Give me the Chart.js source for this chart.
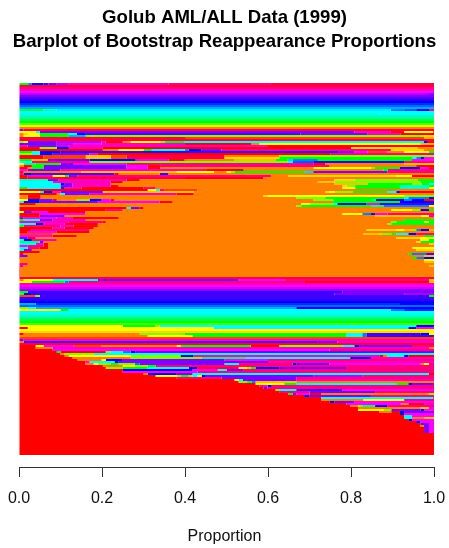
<!DOCTYPE html>
<html>
<head>
<meta charset="utf-8">
<title>Golub AML/ALL Data (1999)</title>
<script src="https://cdn.jsdelivr.net/npm/chart.js@4"></script>
<style>
html, body { margin: 0; padding: 0; background: #fff; }
canvas { display: block; }
</style>
</head>
<body>
<canvas id="barplot" width="449" height="548"></canvas>
<script>
const titleLines = ["Golub AML/ALL Data (1999)", "Barplot of Bootstrap Reappearance Proportions"];
const axisLabel = "Proportion";
const tickLabels = ["0.0", "0.2", "0.4", "0.6", "0.8", "1.0"];
const tickValues = [0, 0.2, 0.4, 0.6, 0.8, 1];

// one row per gene, top to bottom: cluster id, then where that cluster's
// part of the bar ends (in thousandths), repeated. cluster ids go 0..71
const topRows = [
  [24,22,42,30,48,59,51,71,54,91,57,120,63,360,66,607,69,1000],
  [69,1000], [66,1000], [63,1000], [60,1000], [57,988,54,1000], [54,1000], [52,1000], [50,1000], [48,1000],
  [46,1000], [43,1000], [40,1000],
  [27,59,33,91,37,896,42,928,44,957,48,988,66,1000],
  [36,1000], [35,868,36,1000], [33,1000], [31,1000], [28,1000], [24,1000], [20,1000], [14,1000], [6,1000],
  [54,11,69,1000]
];
const upperMixedRows = [
  [12,40,36,50,54,808,63,896,0,928,12,998,0,1000],
  [6,11,10,22,12,50,24,120,36,139,48,161,52,678,54,840,63,920,0,1000],
  [6,11,12,50,24,120,40,161,18,976,10,1000],
  [69,400,3,976,8,1000],
  [69,1000],
  [18,11,12,21,54,91,57,199,63,209,0,250,6,269,12,339,18,351,24,399,36,975,48,985,0,1000],
  [54,91,57,132,60,199,63,400,0,559,6,579,12,967,8,1000],
  [63,21,54,91,57,120,63,600,0,1000],
  [0,50,18,91,48,120,63,202,0,800,10,960,6,1000],
  [0,202,6,240,12,300,24,320,36,399,42,409,48,440,54,488,66,896,10,975,6,1000],
  [24,31,36,50,48,100,51,769,54,808,60,840,3,888,6,928,12,988,24,1000],
  [18,31,36,50,48,81,54,170,63,190,0,750,66,1000],
  [0,59,3,161,9,221,3,259,69,495,6,627,18,1000],
  [0,59,3,161,9,221,3,259,69,495,10,627,24,947,36,957,42,967,48,976,60,1000],
  [24,31,9,69,54,170,48,281,60,360,0,399,6,519,9,619,24,647,38,659,42,720,24,947,60,1000],
  [36,31,66,170,18,647,36,659,44,709,50,928,66,1000],
  [12,11,30,40,24,100,54,132,60,259,66,709,0,738,6,928,9,1000],
  [6,11,0,31,24,59,54,259,60,310,0,340,66,748,6,957,0,1000],
  [0,21,6,31,24,59,54,259,60,310,0,340,6,710,12,848,18,858,24,918,48,967,60,988,0,1000],
  [60,21,54,100,63,451,0,541,6,878,24,888,66,1000],
  [0,11,6,150,9,380,12,469,6,500,12,509,18,519,24,687,38,709,54,888,66,1000],
  [66,11,48,31,52,230,0,240,6,339,50,360,6,1000],
  [0,21,63,81,12,110,24,120,54,141,66,607,6,649,10,909,12,947,0,1000],
  [0,21,69,400,0,589,6,1000],
  [33,69,54,95,63,259,0,291,6,759,10,808,18,960,24,1000],
  [36,81,63,221,0,250,6,720,9,760,18,967,24,1000],
  [36,100,48,110,54,129,63,221,6,760,9,840,24,947,18,970,24,988,36,1000],
  [36,100,54,129,63,221,0,240,6,779,10,789,18,810,24,918,33,988,24,1000],
  [24,21,36,100,51,110,63,151,0,300,66,329,6,779,12,810,24,918,33,988,12,1000],
  [0,310,12,329,36,339,66,351,3,430,6,1000],
  [12,50,36,59,48,81,60,100,54,202,9,421,6,738,10,748,12,760,18,805,24,888,36,909,48,918,0,1000],
  [0,91,6,100,36,110,54,170,63,380,0,421,6,1000],
  [6,21,0,52,6,589,10,599,12,928,18,1000],
  [6,21,0,52,6,668,18,738,24,928,36,938,42,988,48,1000],
  [12,21,48,50,54,81,0,91,6,139,18,170,48,199,60,221,0,230,6,709,18,757,24,848,30,860,48,928,42,947,48,976,0,1000],
  [36,11,48,50,54,190,60,339,0,370,6,757,24,918,48,1000],
  [0,40,6,680,12,700,18,757,36,767,48,837,60,868,51,1000],
  [6,668,18,680,24,848,30,878,42,988,12,1000],
  [0,259,36,269,54,291,0,300,6,1000]
];
const orangeRows = [
  [0,209,66,250,6,897,12,947,18,967,48,988,24,1000],
  [12,11,54,31,60,70,0,160,6,1000],
  [0,50,60,160,6,779,12,827,42,848,48,858,60,888,66,1000],
  [0,50,54,110,6,858,9,969,12,988,66,1000],
  [54,11,60,90,63,130,0,240,6,1000],
  [24,11,36,50,54,81,63,161,6,928,24,1000],
  [63,120,66,202,0,209,6,897,18,909,24,976,12,988,24,1000],
  [36,40,48,59,63,110,0,190,6,888,18,897,24,1000],
  [24,11,66,100,63,132,0,190,6,1000],
  [0,81,63,110,0,180,6,1000],
  [0,31,66,170,6,837,10,909,12,928,9,947,18,957,42,967,48,988,8,1000],
  [0,21,60,90,0,170,6,1000],
  [3,81,6,830,9,871,18,897,24,909,36,938,48,958,66,1000],
  [60,81,0,139,6,976,24,1000],
  [54,21,0,40,6,909,10,967,12,1000],
  [36,11,48,31,63,91,6,967,12,988,24,1000],
  [30,50,54,59,6,957,10,967,24,1000],
  [36,40,63,59,0,70,6,988,10,1000],
  [60,21,66,59,0,70,6,1000],
  [36,21,66,50,0,70,6,948,12,1000],
  [36,11,54,31,6,957,10,1000],
  [0,50,6,1000],
  [0,11,6,938,24,947,42,981,51,1000],
  [54,21,6,976,9,1000],
  [0,3,6,947,24,957,42,976,48,1000],
  [6,976,12,1000],
  [6,976,9,1000],
  [66,21,6,1000],
  [66,11,6,988,9,1000],
  [0,3,6,1000], [0,3,6,1000], [0,3,6,1000], [0,3,6,1000], [0,3,6,1000]
];
const lowerBandRows = [
  [69,1000],
  [6,11,12,81,36,190,54,529,60,639,66,988,9,1000],
  [12,31,24,110,42,120,66,687,0,988,9,1000],
  [63,1000], [60,1000], [58,1000], [55,1000],
  [24,21,51,779,54,1000],
  [30,11,48,31,51,760,54,928,56,1000],
  [3,40,18,50,51,988,24,1000],
  [51,1000], [50,1000], [48,1000],
  [40,40,46,918,48,1000],
  [43,1000],
  [18,21,36,40,40,668,48,1000],
  [12,100,24,120,36,896,42,928,46,1000],
  [36,1000], [35,1000], [33,1000], [30,1000], [27,1000], [24,1000], [21,1000],
  [6,2,12,250,24,329,18,339,36,957,48,1000],
  [0,21,12,469,36,938,48,957,60,1000],
  [12,1000],
  [10,988,12,1000],
  [0,11,6,291,18,399,24,788,36,827,42,837,51,967,48,988,12,1000],
  [6,310,12,418,24,788,36,827,42,837,51,1000],
  [3,1000],
  [54,11,63,1000],
  [6,11,52,720,54,767,63,1000],
  [69,1000]
];
const redRows = [
  [0,40,12,59,60,132,3,199,6,380,12,389,24,558,0,627,18,779,36,808,48,821,54,947,66,1000],
  [0,40,6,81,63,988,6,1000],
  [0,81,60,748,66,1000],
  [0,91,24,100,0,209,18,221,36,250,42,269,48,281,54,1000],
  [0,100,6,110,18,180,36,1000],
  [0,110,6,120,12,269,18,389,48,420,63,868,0,878,6,888,36,928,48,938,0,1000],
  [0,129,6,269,18,440,30,548,36,798,48,848,63,1000],
  [0,141,6,199,12,209,48,250,54,495,60,600,66,1000],
  [0,160,60,170,36,230,48,240,54,600,63,1000],
  [0,160,6,180,12,190,18,221,24,240,18,279,42,291,54,495,36,529,66,659,48,668,54,748,60,968,6,976,12,988,66,1000],
  [0,202,6,250,12,279,18,310,24,329,66,1000],
  [0,209,18,250,24,310,36,409,48,430,69,529,12,549,18,558,24,570,48,627,54,788,66,1000],
  [0,250,48,418,60,479,36,500,54,540,66,1000],
  [0,250,60,430,66,1000],
  [0,300,6,310,48,380,54,418,36,988,0,1000],
  [0,329,12,380,18,389,24,409,18,418,36,430,12,440,48,450,54,709,57,827,66,1000],
  [0,380,66,488,54,668,66,1000],
  [0,519,12,529,36,539,54,668,63,1000],
  [0,529,18,549,24,560,42,570,9,668,6,1000],
  [0,570,12,639,24,668,36,909,24,938,48,947,54,1000],
  [0,579,63,599,48,609,66,1000],
  [0,589,54,599,66,1000],
  [0,618,18,627,36,668,52,779,60,1000],
  [0,627,66,700,54,858,66,1000],
  [0,649,24,659,54,668,60,700,0,728,6,988,18,1000],
  [0,687,48,700,54,848,66,1000],
  [0,728,36,998,0,1000],
  [0,728,6,829,12,928,66,1000],
  [0,748,48,760,54,808,60,1000],
  [0,789,60,920,6,938,0,976,63,1000],
  [0,798,6,817,18,827,30,858,48,888,66,1000],
  [0,817,6,968,9,988,63,1000],
  [0,817,12,878,18,897,54,968,48,976,60,1000],
  [0,868,6,897,0,918,48,928,54,1000],
  [0,918,48,928,60,1000],
  [0,928,36,947,60,1000],
  [0,928,36,947,6,976,9,1000],
  [0,938,48,947,60,1000],
  [0,957,48,967,60,1000],
  [0,967,54,988,60,1000],
  [0,967,6,976,54,988,60,1000],
  [0,976,54,988,60,1000],
  [0,976,54,988,60,1000],
  [0,976,54,988,60,1000],
  [0,1000], [0,1000], [0,1000], [0,1000], [0,1000], [0,1000], [0,1000], [0,1000], [0,1000], [0,1000], [0,1000]
];

const rows = [...topRows, ...upperMixedRows, ...orangeRows, ...lowerBandRows, ...redRows];

// empty rows between the last bar and the x axis
const AXIS_GAP_ROWS = 6;

function clusterColor(cluster) {
  return `hsl(${cluster * 5}, 100%, 50%)`;
}

// stacked bars: the nth part of every row goes in the nth dataset
function buildDatasets() {
  const datasets = [];
  const mostParts = Math.max(...rows.map(r => r.length / 2));
  for (let part = 0; part < mostParts; part++) {
    const data = [];
    const colors = [];
    rows.forEach(row => {
      const end = row[part * 2 + 1];
      const start = part === 0 ? 0 : row[part * 2 - 1];
      data.push(end === undefined ? 0 : (end - start) / 1000);
      colors.push(end === undefined ? "#fff" : clusterColor(row[part * 2]));
    });
    datasets.push({
      data: data,
      backgroundColor: colors,
      barPercentage: 1,
      categoryPercentage: 1,
      inflateAmount: 0,
      borderWidth: 0
    });
  }
  return datasets;
}

new Chart("barplot", {
  type: "bar",
  data: {
    labels: rows.map((row, i) => i),
    datasets: buildDatasets()
  },
  options: {
    indexAxis: "y",
    responsive: false,
    animation: false,
    devicePixelRatio: 1,
    scales: {
      x: {
        stacked: true,
        min: 0,
        max: 1,
        afterBuildTicks: scale => { scale.ticks = tickValues.map(v => ({ value: v })); },
        afterFit: scale => {
          scale.paddingLeft = 19;
          scale.paddingRight = 15;
          scale.height = 41;
        },
        ticks: {
          callback: (value, index) => tickLabels[index],
          color: "#111",
          font: { family: "Liberation Sans", size: 16 },
          padding: 11.5,
          maxRotation: 0,
          autoSkip: false
        },
        grid: { drawOnChartArea: false, color: "#333", tickLength: 10, lineWidth: 1 },
        border: { color: "#333", width: 1 }
      },
      y: {
        type: "linear",
        stacked: true,
        reverse: true,
        display: false,
        offset: false,
        min: -0.5,
        max: rows.length + AXIS_GAP_ROWS - 0.5
      }
    },
    plugins: {
      legend: { display: false },
      tooltip: { enabled: false },
      title: {
        display: true,
        text: titleLines,
        color: "#000",
        font: { family: "Liberation Sans", size: 18.6, weight: "bold", lineHeight: 1.27 },
        padding: { top: 6, bottom: 29.8 }
      },
      subtitle: {
        display: true,
        position: "bottom",
        text: axisLabel,
        color: "#111",
        font: { family: "Liberation Sans", size: 16 },
        padding: { top: 19.4, bottom: 1.4 }
      }
    }
  }
});
</script>
</body>
</html>
